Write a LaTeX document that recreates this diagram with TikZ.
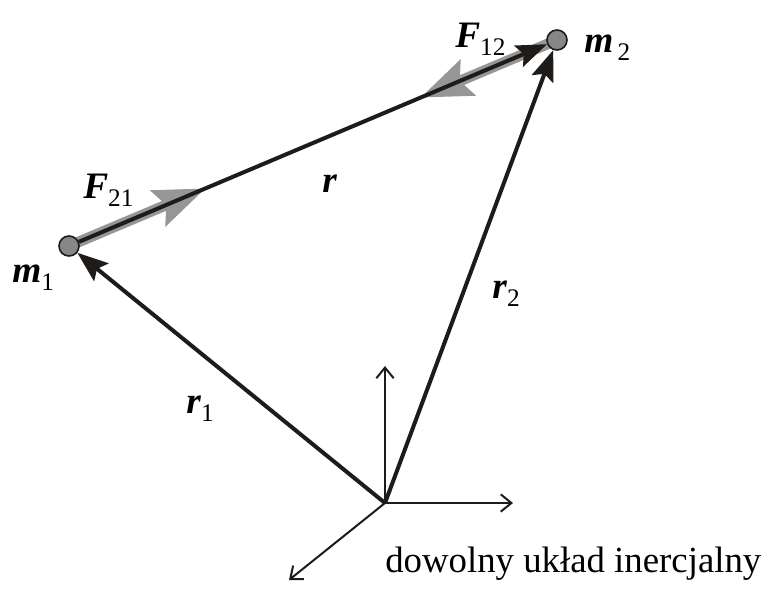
\documentclass[tikz,border=0pt]{standalone}
\usepackage{fontspec}
\setmainfont{Liberation Serif}
\usetikzlibrary{arrows.meta,calc,backgrounds}
\definecolor{forcegray}{RGB}{150,150,150}
\definecolor{massgray}{RGB}{135,135,135}
\definecolor{inkblack}{RGB}{30,27,24}
\newcommand{\vlab}[2]{\textbf{\textit{#1}}\raisebox{-0.22em}{\fontsize{19}{19}\selectfont #2}}
\tikzset{
  vecarrow/.style={inkblack,line width=3pt,-{Stealth[length=23pt,width=17pt,inset=4pt]}},
  forcearrow/.style={forcegray,line width=8pt,-{Stealth[length=38pt,width=28pt,inset=6pt]}},
  axisarrow/.style={inkblack,line width=1.5pt,-{Straight Barb[length=8pt,width=13pt]}},
  mass/.style={circle,draw=inkblack,line width=1.2pt,fill=massgray,minimum size=15pt,inner sep=0pt},
  lab/.style={font=\fontsize{28}{28}\selectfont,anchor=base west,inner sep=0pt}
}
\begin{document}
\begin{tikzpicture}[x=0.75pt,y=-0.75pt]
\useasboundingbox (0,0) rectangle (765,590);
% masses and origin of the frame
\node[mass] (m1) at (69,246) {};
\node[mass] (m2) at (557,40) {};
\coordinate (O) at (385,503);
\coordinate (ez) at (385,366);
\coordinate (ex) at (513,503);
\coordinate (ey) at (289,580);
\begin{scope}[on background layer]
  % forces
  \draw[forcearrow] (m1.center) -- ($(m1)!0.28!(m2)$);
  \draw[forcearrow] (m2.center) -- ($(m2)!0.28!(m1)$);
  % position vectors
  \draw[vecarrow] (m1) -- (m2);
  \draw[vecarrow] (O) -- (m1);
  \draw[vecarrow] (O) -- (m2);
  % axes
  \draw[axisarrow] (O) -- (ez);
  \draw[axisarrow] (O) -- (ex);
  \draw[axisarrow] (O) -- (ey);
\end{scope}
% labels
\node[lab] (lF12) at (455,47) {\vlab{F}{12}};
\node[lab] (lm2) at (584,52) {\vlab{m}{\,2}};
\node[lab] (lF21) at (83,198) {\vlab{F}{21}};
\node[lab] (lr) at (322,192) {\textbf{\textit{r}}};
\node[lab] (lm1) at (12,282) {\vlab{m}{1}};
\node[lab] (lr2) at (492,298) {\vlab{r}{2}};
\node[lab] (lr1) at (186,413) {\vlab{r}{1}};
\node[lab,font=\fontsize{27.6}{27.6}\selectfont] (frame) at (385,572) {dowolny układ inercjalny};
\end{tikzpicture}
\end{document}
